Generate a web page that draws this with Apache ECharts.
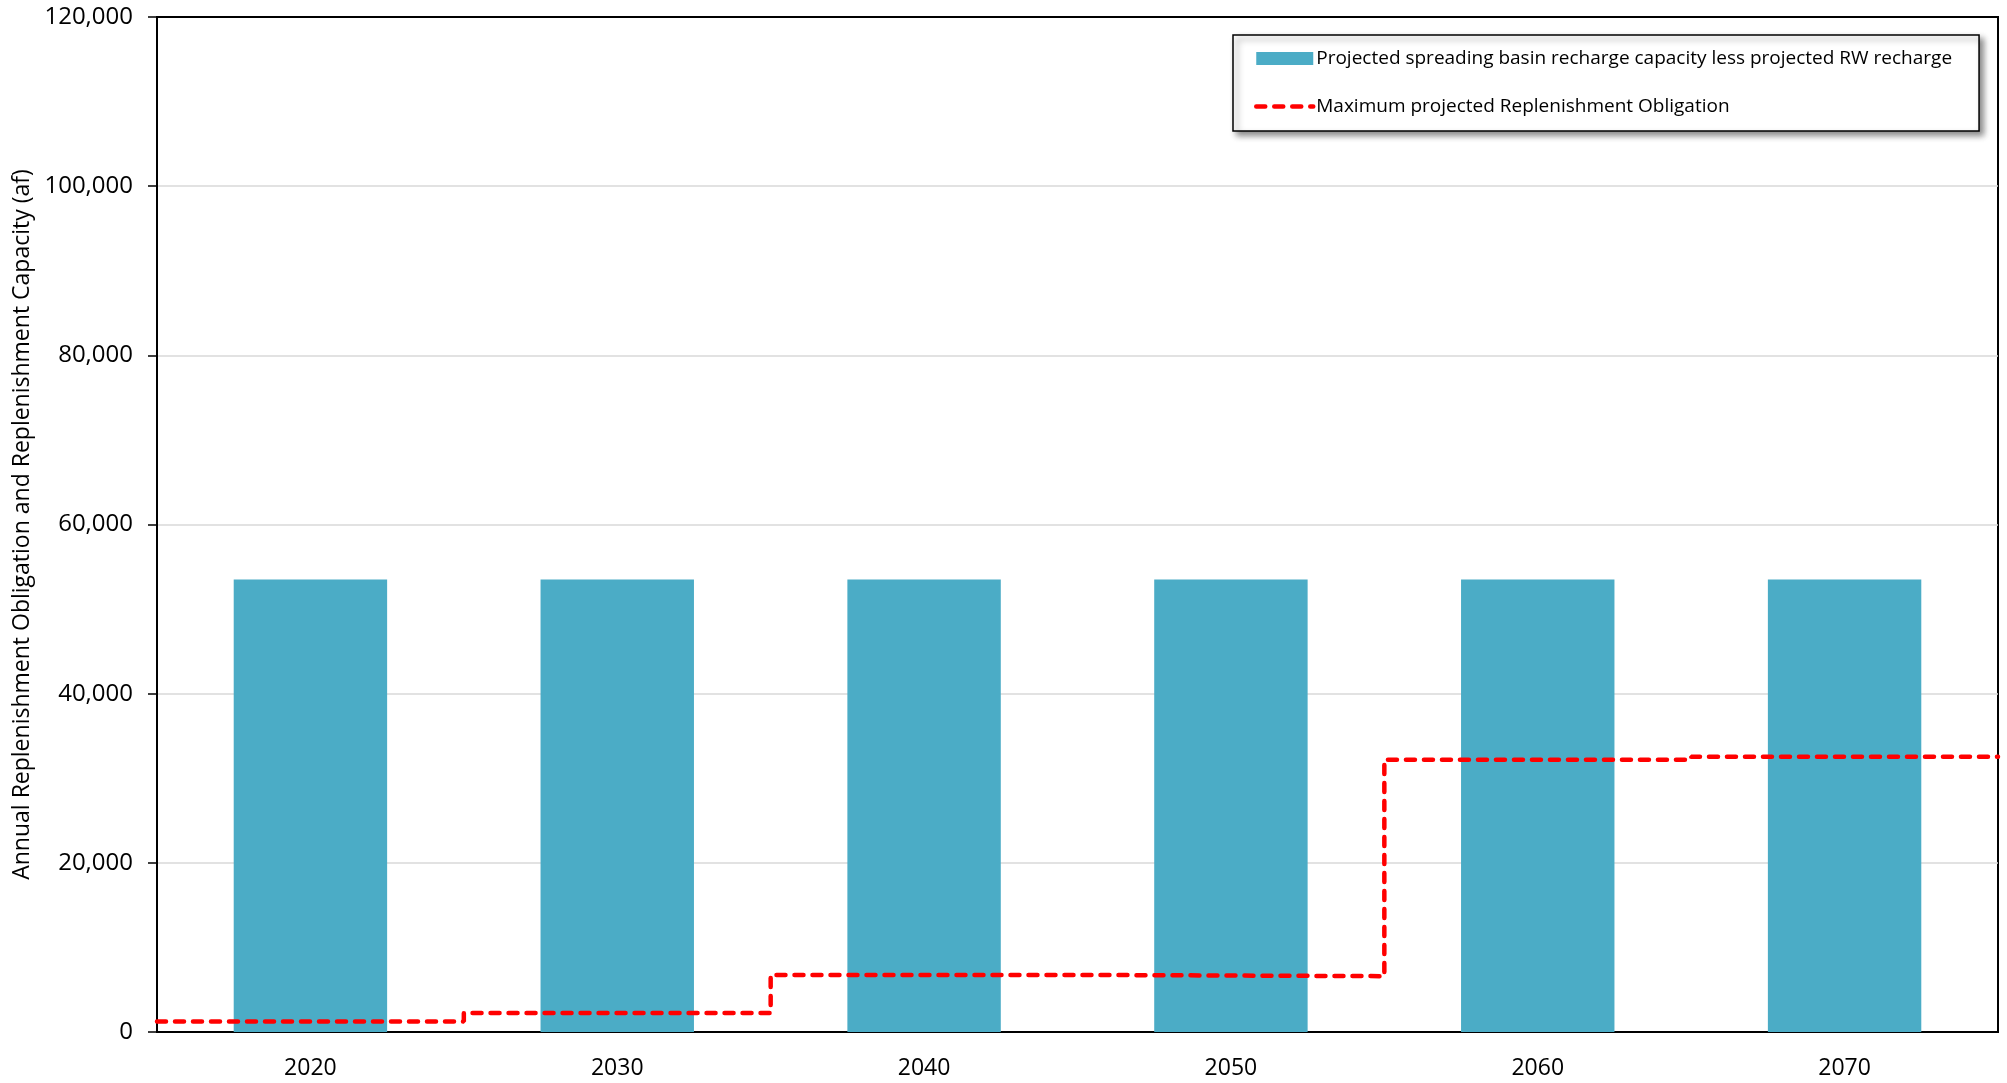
<!DOCTYPE html>
<html style="height: 100%">

<head>
    <meta charset="utf-8">
</head>

<body style="height: 100%; margin: 0; background: #fff">
    <div id="container" style="width: 2007px; height: 1083px"></div>
    <script type="text/javascript" src="https://cdn.jsdelivr.net/npm/echarts@6/dist/echarts.min.js"></script>
    <script type="text/javascript">
        // chart data
        var years = ['2020', '2030', '2040', '2050', '2060', '2070'];
        var capacity = [53500, 53500, 53500, 53500, 53500, 53500];
        var obligation = [1250, 2250, 6750, 6600, 32200, 32550];
        var yTicks = [0, 20000, 40000, 60000, 80000, 100000, 120000];

        var barName = 'Projected spreading basin recharge capacity less projected RW recharge';
        var lineName = 'Maximum projected Replenishment Obligation';
        var font = 'Open Sans';

        // step line runs edge to edge: one point at the left edge of each year slot, plus the right edge
        var stepPoints = [];
        for (var i = 0; i < obligation.length; i++) {
            stepPoints.push([i, obligation[i]]);
        }
        stepPoints.push([years.length, obligation[obligation.length - 1]]);

        var dashStyle = { color: '#ff0000', width: 4.5, type: [9, 9], cap: 'round' };

        var dom = document.getElementById("container");
        var myChart = echarts.init(dom);
        var option = {
            backgroundColor: '#fff',
            animation: false,
            textStyle: { fontFamily: font, color: '#000' },
            grid: {
                left: 157,
                right: 9,
                top: 17,
                bottom: 51,
                show: true,
                borderColor: '#000',
                borderWidth: 2
            },
            legend: {
                left: 1233,
                top: 35,
                orient: 'vertical',
                padding: [14, 27, 15, 21],
                itemGap: 29,
                itemWidth: 57,
                itemHeight: 13,
                backgroundColor: '#fff',
                borderColor: '#000',
                borderWidth: 1.5,
                shadowBlur: 6,
                shadowOffsetX: 4,
                shadowOffsetY: 4,
                shadowColor: 'rgba(0,0,0,0.45)',
                textStyle: { fontFamily: font, fontSize: 19, color: '#000', padding: [0, 0, 0, -2] },
                data: [
                    { name: barName, icon: 'rect' },
                    { name: lineName, itemStyle: { opacity: 0 }, lineStyle: dashStyle }
                ]
            },
            xAxis: [
                {
                    type: 'category',
                    data: years,
                    axisLine: { lineStyle: { color: '#000', width: 2 } },
                    axisTick: { show: false },
                    axisLabel: { fontFamily: font, fontSize: 23, color: '#000', margin: 25 }
                },
                {
                    type: 'value',
                    min: 0,
                    max: years.length,
                    show: false
                }
            ],
            yAxis: {
                type: 'value',
                min: yTicks[0],
                max: yTicks[yTicks.length - 1],
                interval: yTicks[1] - yTicks[0],
                name: 'Annual Replenishment Obligation and Replenishment Capacity (af)',
                nameLocation: 'middle',
                nameGap: 119,
                nameTextStyle: { fontFamily: font, fontSize: 23, color: '#000' },
                axisLine: { show: true, lineStyle: { color: '#000', width: 2 } },
                axisTick: { show: true, length: 9, lineStyle: { color: '#000', width: 1.5 } },
                axisLabel: {
                    fontFamily: font,
                    fontSize: 24,
                    color: '#000',
                    margin: 24,
                    formatter: function (v) { return v.toLocaleString('en-US'); }
                },
                splitLine: { showMaxLine: false, lineStyle: { color: '#d9d9d9', width: 1.5 } }
            },
            series: [
                {
                    name: barName,
                    type: 'bar',
                    data: capacity,
                    barWidth: '50%',
                    itemStyle: { color: '#4BACC6' }
                },
                {
                    name: lineName,
                    type: 'line',
                    xAxisIndex: 1,
                    data: stepPoints,
                    step: 'end',
                    symbol: 'none',
                    lineStyle: dashStyle,
                    itemStyle: { color: '#ff0000' },
                    z: 5
                }
            ]
        };
        myChart.setOption(option, true);
    </script>
</body>

</html>
